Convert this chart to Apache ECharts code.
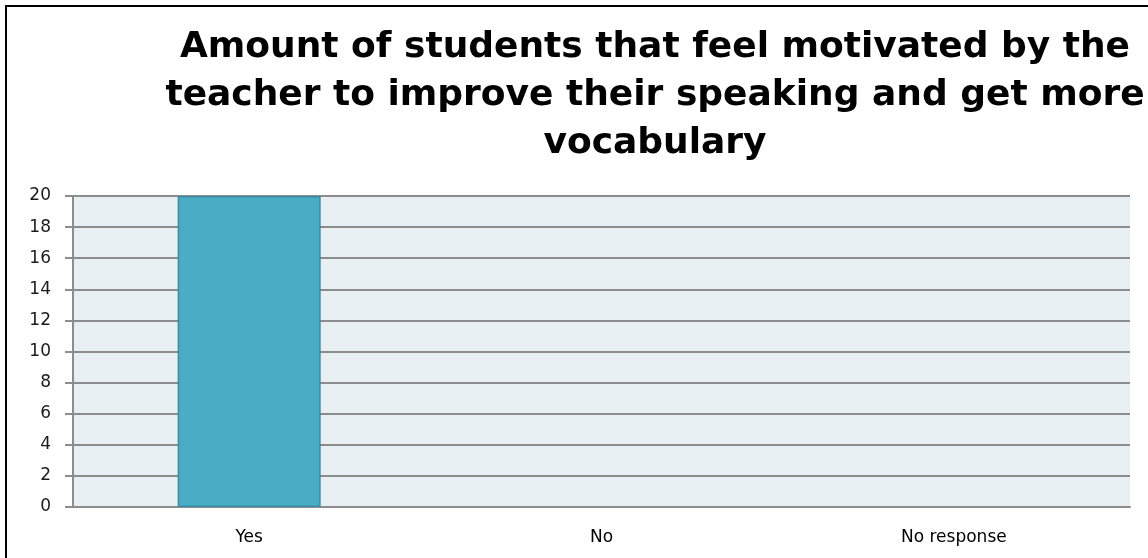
<!DOCTYPE html>
<html><head><meta charset="utf-8">
<script src="https://cdn.jsdelivr.net/npm/echarts@6/dist/echarts.min.js"></script>
<style>html,body{margin:0;padding:0;background:#fff}#c{width:1148px;height:558px}</style>
</head><body><div id="c"></div>
<script>
const titleText = 'Amount of students that feel motivated by the\nteacher to improve their speaking and get more\nvocabulary';
const categories = ['Yes', 'No', 'No response'];
const values = [20, 0, 0];
const yTicks = [0, 2, 4, 6, 8, 10, 12, 14, 16, 18, 20];

const chart = echarts.init(document.getElementById('c'));
chart.setOption({
  animation: false,
  backgroundColor: '#fff',
  title: {
    text: titleText,
    left: 650, top: 19, textAlign: 'center',
    textStyle: {fontFamily: 'DejaVu Sans', fontWeight: 'bold', fontSize: 36, lineHeight: 48, color: '#000'}
  },
  graphic: [{type: 'rect', shape: {x: 6, y: 6, width: 1160, height: 600}, style: {fill: 'none', stroke: '#000', lineWidth: 2}, silent: true, z: 100}],
  grid: {left: 73, right: 18, top: 196, bottom: 51, show: true, backgroundColor: '#E8EFF3', borderWidth: 0},
  xAxis: {
    type: 'category', data: categories,
    axisLine: {show: true, lineStyle: {color: '#8c8c8c', width: 2}},
    axisTick: {show: false},
    axisLabel: {fontFamily: 'DejaVu Sans', fontSize: 17, color: '#000', margin: 22}
  },
  yAxis: {
    type: 'value', min: yTicks[0], max: yTicks[yTicks.length - 1], interval: 2,
    axisLine: {show: true, lineStyle: {color: '#8c8c8c', width: 2}},
    axisTick: {show: true, length: 8, lineStyle: {color: '#8c8c8c', width: 2}},
    splitLine: {show: true, lineStyle: {color: '#8c8c8c', width: 2}},
    axisLabel: {fontFamily: 'DejaVu Sans', fontSize: 17, color: '#1a1a1a', margin: 22}
  },
  series: [{
    type: 'bar',
    data: values.map(v => ({value: v, itemStyle: v ? {} : {borderWidth: 0}})),
    barWidth: '40.6%',
    itemStyle: {color: '#4BACC6', borderColor: '#3A8CA3', borderWidth: 1.5}
  }]
});
</script></body></html>
